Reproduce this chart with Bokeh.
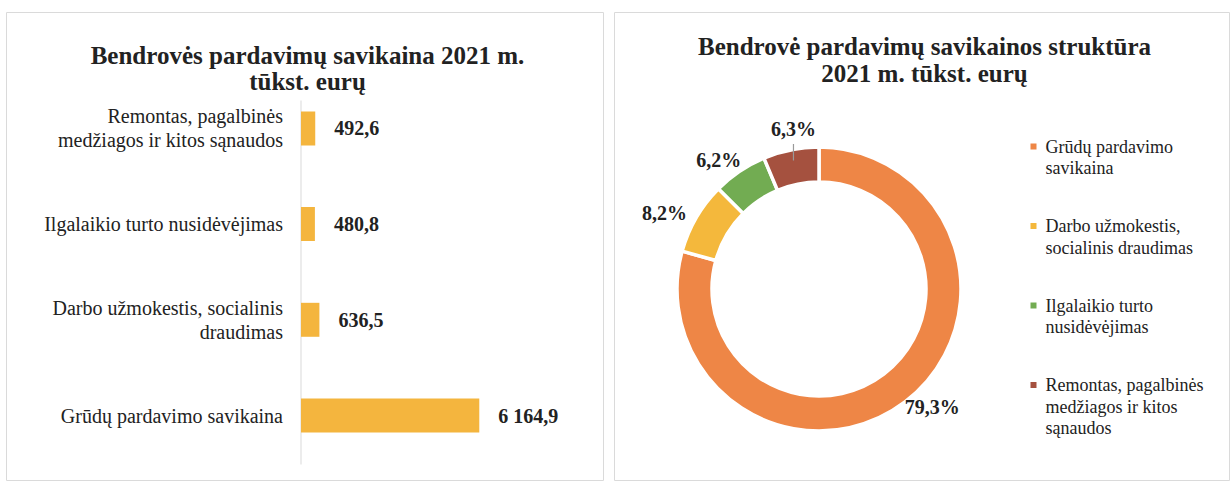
import math
from bokeh.plotting import figure
from bokeh.models import Range1d, Label, ColumnDataSource, Spacer
from bokeh.layouts import row, column
from bokeh.embed import file_html
from bokeh.resources import INLINE
from bokeh.core.properties import value

# ---------------- data ----------------
categories = [
    "Grūdų pardavimo savikaina",
    "Darbo užmokestis, socialinis draudimas",
    "Ilgalaikio turto nusidėvėjimas",
    "Remontas, pagalbinės medžiagos ir kitos sąnaudos",
]
category_labels = [
    "Grūdų pardavimo savikaina",
    "Darbo užmokestis, socialinis\ndraudimas",
    "Ilgalaikio turto nusidėvėjimas",
    "Remontas, pagalbinės\nmedžiagos ir kitos sąnaudos",
]
costs = [6164.9, 636.5, 480.8, 492.6]          # tūkst. eurų
shares_pct = [79.3, 8.2, 6.2, 6.3]             # %
legend_labels = [
    "Grūdų pardavimo\nsavikaina",
    "Darbo užmokestis,\nsocialinis draudimas",
    "Ilgalaikio turto\nnusidėvėjimas",
    "Remontas, pagalbinės\nmedžiagos ir kitos\nsąnaudos",
]
title_left = ["Bendrovės pardavimų savikaina 2021 m.", "tūkst. eurų"]
title_right = ["Bendrovė pardavimų savikainos struktūra", "2021 m. tūkst. eurų"]

# ---------------- style / layout ----------------
FONT_NAME = "Liberation Serif"
FONT = value(FONT_NAME)
TXT = "#222222"
BAR = "#F4B53E"
SLICE_COLORS = ["#EE8646", "#F4B83C", "#72AC52", "#A5513F"]
P1X, P2X, PY = 6, 614, 12      # page position of the two panels
W1, W2, H = 598, 616, 469

# ---------------- left: bar chart ----------------
PX_PER_UNIT = 0.02892
AXIS_PX = 300.5 - P1X          # canvas x of value 0
ROW_PX = 95.7                  # pixels per category slot
BOTTOM_PX = H - (415 - PY)     # canvas px from bottom to first category centre

x_start = -AXIS_PX / PX_PER_UNIT
x_end = (W1 - AXIS_PX) / PX_PER_UNIT
y_start = -BOTTOM_PX / ROW_PX
y_end = y_start + H / ROW_PX


def lx(page_x):
    return x_start + (page_x - P1X) / PX_PER_UNIT


def ly(page_y):
    return y_start + (H - (page_y - PY)) / ROW_PX


p1 = figure(width=W1, height=H, output_backend="svg", toolbar_location=None,
            x_range=Range1d(x_start, x_end), y_range=Range1d(y_start, y_end),
            x_axis_location=None, y_axis_location=None, min_border=0)
p1.outline_line_color = "#dadada"
for g in p1.grid:
    g.visible = False

ys = list(range(len(categories)))
val_txt = [f"{v:,.1f}".replace(",", " ").replace(".", ",") for v in costs]
src1 = ColumnDataSource(dict(y=ys, v=costs, lab=category_labels, vt=val_txt))

p1.segment(x0=0, y0=ly(464), x1=0, y1=ly(100), line_color="#d9d9d9", line_width=1)
p1.hbar(y="y", left=0, right="v", height=0.355, source=src1,
        fill_color=BAR, line_color=None)
p1.text(x=0, y="y", text="lab", source=src1, x_offset=-18,
        text_align="right", text_baseline="middle", text_font=FONT,
        text_font_size="20px", text_color=TXT, text_line_height=1.1)
p1.text(x="v", y="y", text="vt", source=src1, x_offset=19,
        text_align="left", text_baseline="middle", text_font=FONT,
        text_font_size="20px", text_font_style="bold", text_color=TXT)

for txt, base in zip(title_left, [55, 81]):
    p1.add_layout(Label(x=lx(307), y=ly(base), text=txt, text_align="center",
                        text_baseline="alphabetic", text_font=FONT_NAME,
                        text_font_size="25px", text_font_style="bold",
                        text_color=TXT))

# ---------------- right: donut ----------------
def rx(page_x):
    return page_x - P2X


def ry(page_y):
    return H - (page_y - PY)


p2 = figure(width=W2, height=H, output_backend="svg", toolbar_location=None,
            x_range=Range1d(0, W2), y_range=Range1d(0, H),
            x_axis_location=None, y_axis_location=None, min_border=0)
p2.outline_line_color = "#dadada"
for g in p2.grid:
    g.visible = False

cx, cy = rx(818.5), ry(288.5)
R_OUT, R_IN = 142, 107

total = sum(costs)
starts, ends, mids = [], [], []
cum = 0.0
for c in costs:
    a0 = math.pi / 2 - 2 * math.pi * cum
    cum += c / total
    a1 = math.pi / 2 - 2 * math.pi * cum
    starts.append(a0)
    ends.append(a1)
    mids.append((a0 + a1) / 2)

src2 = ColumnDataSource(dict(s=starts, e=ends, c=SLICE_COLORS))
p2.annular_wedge(x=cx, y=cy, inner_radius=R_IN, outer_radius=R_OUT,
                 start_angle="s", end_angle="e", direction="clock",
                 fill_color="c", line_color="white", line_width=3.5, source=src2)

# percentage labels: anchored at mid angle, nudged like the original
LABEL_R = 163
nudge = [(14.5, -11.5), (-13.6, 5.5), (-9.2, 6.0), (6.7, -0.7)]   # page px (dx, dy down)
lx2, ly2 = [], []
for m, (dx, dy) in zip(mids, nudge):
    lx2.append(cx + LABEL_R * math.cos(m) + dx)
    ly2.append(cy + LABEL_R * math.sin(m) - dy)
pct_txt = [f"{v:.1f}%".replace(".", ",") for v in shares_pct]
p2.text(x=lx2, y=ly2, text=pct_txt, text_align="center", text_baseline="middle",
        text_font=FONT, text_font_size="20px", text_font_style="bold",
        text_color=TXT)

# leader line for the last (smallest, top) slice
m = mids[3]
p2.segment(x0=lx2[3], y0=cy + 131 * math.sin(m), x1=lx2[3], y1=cy + 148 * math.sin(m),
           line_color="#9a9a9a", line_width=1.2)

# legend
leg_y_page = [146 + 79.5 * i for i in range(len(legend_labels))]
p2.scatter(x=rx(1033), y=[ry(v) for v in leg_y_page], marker="square", size=6,
           fill_color=SLICE_COLORS, line_color=None)
p2.text(x=rx(1045), y=[ry(v - 10) for v in leg_y_page], text=legend_labels,
        text_align="left", text_baseline="top", text_font=FONT,
        text_font_size="18px", text_color=TXT, text_line_height=1.08)

for txt, base in zip(title_right, [46, 73]):
    p2.add_layout(Label(x=rx(924), y=ry(base), text=txt, text_align="center",
                        text_baseline="alphabetic", text_font=FONT_NAME,
                        text_font_size="25px", text_font_style="bold",
                        text_color=TXT))

layout = column(Spacer(height=PY),
                row(Spacer(width=P1X), p1, Spacer(width=P2X - P1X - W1), p2))
open("out.html", "w").write(file_html(layout, INLINE))
